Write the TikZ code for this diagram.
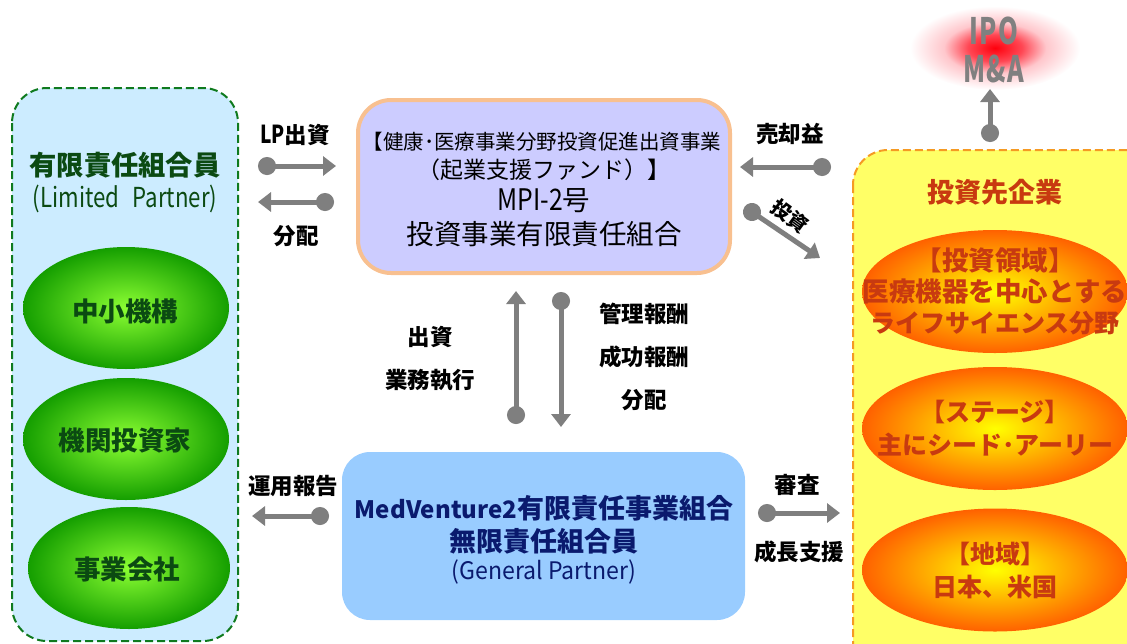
\documentclass[tikz,border=0pt]{standalone}
\usepackage{fontspec}
\setmainfont{Noto Sans CJK JP}
\usetikzlibrary{arrows.meta,shapes.geometric}
\definecolor{gin}{rgb}{0.55,1,0.2}
\definecolor{gout}{rgb}{0.08,0.62,0}
\definecolor{oin}{rgb}{1,1,0}
\definecolor{oout}{rgb}{1,0.38,0}
\definecolor{rA}{rgb}{1,0,0.05}
\definecolor{rB}{rgb}{1,0.28,0.33}
\definecolor{rC}{rgb}{1,0.78,0.8}
\pgfdeclareradialshading{grnball}{\pgfpoint{0bp}{0bp}}{color(0bp)=(gin); color(25bp)=(gout); color(50bp)=(gout)}
\pgfdeclareradialshading{orgball}{\pgfpoint{0bp}{0bp}}{color(0bp)=(oin); color(25bp)=(oout); color(50bp)=(oout)}
\pgfdeclareradialshading{glowball}{\pgfpoint{0bp}{0bp}}{color(0bp)=(rA); color(8bp)=(rB); color(15bp)=(rC); color(25bp)=(white); color(50bp)=(white)}
\definecolor{lpfill}{HTML}{CCECFF}
\definecolor{lpline}{HTML}{0F7A1E}
\definecolor{dkgreen}{HTML}{0B4A12}
\definecolor{midbox}{HTML}{CCCCFF}
\definecolor{midline}{HTML}{F8C090}
\definecolor{gpbox}{HTML}{99CCFF}
\definecolor{navy}{HTML}{0A1A6E}
\definecolor{yelbox}{HTML}{FFFF66}
\definecolor{yelline}{HTML}{F59A23}
\definecolor{redtxt}{HTML}{C83A10}
\definecolor{arrowgray}{HTML}{7F7F7F}
\definecolor{ipogray}{HTML}{808080}
\tikzset{
  x=1pt,y=-1pt,
  panel/.style={dash pattern=on 8pt off 4pt,line width=2pt,rounded corners=35pt},
  grnell/.style={ellipse,minimum width=206pt,minimum height=122pt,inner sep=0pt,shading=grnball},
  orgell/.style={ellipse,minimum width=266pt,minimum height=123pt,inner sep=0pt,shading=orgball},
  grntxt/.style={inner sep=0pt,text=dkgreen,font=\fontsize{26.5}{30}\selectfont\bfseries},
  orgtxt/.style={inner sep=0pt,text=redtxt,align=center,font=\fontsize{26.5}{34}\selectfont\bfseries},
  flow/.style={draw=arrowgray,line width=5pt,shorten <=-9pt,{Circle[length=18pt,width=18pt]}-{Triangle[length=13pt,width=19pt]}},
  lbl/.style={text=black,font=\fontsize{22.5}{25}\selectfont\bfseries,inner sep=0pt},
}
\begin{document}
\begin{tikzpicture}
\useasboundingbox (0,0) rectangle (1127,643);
\clip (0,0) rectangle (1127,643);
% LP panel
\path[panel,fill=lpfill,draw=lpline] (12,88) rectangle (238,641);
\node[text=dkgreen,font=\fontsize{27.3}{30}\selectfont\bfseries,inner sep=0pt] (lptitle) at (125,165) {有限責任組合員};
\node[text=dkgreen,font=\fontsize{22}{25}\selectfont,inner sep=0pt] (lpsub) at (125,199) {\scalebox{1.01}[1.25]{(Limited\hspace{0.6em}Partner)}};
\node[grnell] (e1) at (126,308) {};
\node[grnell] (e2) at (126,439) {};
\node[grnell,minimum width=202pt] (e3) at (129,568) {};
\node[grntxt] (t1) at (125,311) {中小機構};
\node[grntxt] (t2) at (125,440) {機関投資家};
\node[grntxt] (t3) at (127,569) {事業会社};
% Fund box
\node[draw=midline,fill=midbox,line width=4pt,rounded corners=33pt,minimum width=372pt,minimum height=173pt,inner sep=0pt] (fund) at (544,186.5) {};
\node[inner sep=0pt,font=\fontsize{20.5}{24}\selectfont] (f1) at (542,142) {【健康･医療事業分野投資促進出資事業};
\node[inner sep=0pt,font=\fontsize{23}{26}\selectfont] (f2) at (544,170) {（起業支援ファンド）】};
\node[inner sep=0pt,font=\fontsize{27.5}{30}\selectfont] (f3) at (544,201) {\scalebox{0.9}[1.08]{MPI-2}号};
\node[inner sep=0pt,font=\fontsize{27.5}{30}\selectfont] (f4) at (544,234) {投資事業有限責任組合};
% GP box
\node[fill=gpbox,rounded corners=28pt,minimum width=403pt,minimum height=168pt,inner sep=0pt] (gp) at (543.5,536) {};
\node[inner sep=0pt,text=navy,font=\fontsize{27}{30}\selectfont\bfseries] (g1) at (544,508) {{\fontsize{24}{30}\selectfont MedVenture2}有限責任事業組合};
\node[inner sep=0pt,text=navy,font=\fontsize{27}{30}\selectfont\bfseries] (g2) at (544,541) {無限責任組合員};
\node[inner sep=0pt,text=navy,font=\fontsize{21}{23}\selectfont] (g3) at (544,572) {\scalebox{1.1}[1.15]{(General Partner)}};
% Portfolio panel
\path[panel,fill=yelbox,draw=yelline] (853,150) rectangle (1160,680);
\node[text=redtxt,inner sep=0pt,font=\fontsize{27}{30}\selectfont\bfseries] (ptitle) at (995,192) {投資先企業};
\node[orgell] (o1) at (995,291.5) {};
\node[orgell] (o2) at (995,428.5) {};
\node[orgell] (o3) at (995,570) {};
\node[orgtxt] (ot1) at (o1) {【投資領域】\\[-3pt]医療機器を中心とする\\[-3pt]{\fontsize{25}{34}\selectfont ライフサイエンス分野}};
\node[orgtxt,font=\fontsize{25}{34}\selectfont\bfseries] (ot2) at (o2) {【ステージ】\\[-1pt]主にシード･アーリー};
\node[orgtxt,font=\fontsize{25}{34}\selectfont\bfseries] (ot3) at (o3) {【地域】\\[-1pt]日本、米国};
% IPO
\path[shading=glowball] (995,48) ellipse [x radius=85,y radius=42];
\node[inner sep=0pt,text=ipogray,font=\fontsize{28}{34}\selectfont\bfseries] (ipo1) at (994,31) {\scalebox{0.9}[1.3]{I\hspace{2pt}P\hspace{2pt}O}};
\node[inner sep=0pt,text=ipogray,font=\fontsize{28}{34}\selectfont\bfseries] (ipo2) at (994,69) {\scalebox{0.9}[1.3]{M\hspace{1pt}\&\hspace{2pt}A}};
% Arrow ends
\coordinate (a1s) at (267,166); \coordinate (a1e) at (336,166);
\coordinate (a2s) at (325,202); \coordinate (a2e) at (258,202);
\coordinate (a3s) at (822,167); \coordinate (a3e) at (740,167);
\coordinate (a4s) at (752,212); \coordinate (a4e) at (820,258);
\coordinate (a5s) at (516,415); \coordinate (a5e) at (516,291);
\coordinate (a6s) at (561,301); \coordinate (a6e) at (561,427);
\coordinate (a7s) at (320,516); \coordinate (a7e) at (252,516);
\coordinate (a8s) at (767,513); \coordinate (a8e) at (840,513);
\coordinate (a9s) at (990,133); \coordinate (a9e) at (990,89);
\foreach \n in {1,...,9} \draw[flow] (a\n s) -- (a\n e);
% Labels
\node[lbl] (l1) at (295,135) {\scalebox{0.85}[1.1]{LP}出資};
\node[lbl] (l2) at (296,236) {分配};
\node[lbl] (l3) at (790,134) {売却益};
\node[lbl,rotate=-36,font=\fontsize{20}{24}\selectfont\bfseries] (l4) at (790,216) {投資};
\node[lbl] (l5) at (430,337) {出資};
\node[lbl] (l6) at (430,380) {業務執行};
\node[lbl] (l7) at (644,314) {管理報酬};
\node[lbl] (l8) at (644,357) {成功報酬};
\node[lbl] (l9) at (644,400) {分配};
\node[lbl] (l10) at (293,486) {運用報告};
\node[lbl] (l11) at (797,485) {審査};
\node[lbl] (l12) at (799,552) {成長支援};
\end{tikzpicture}
\end{document}
